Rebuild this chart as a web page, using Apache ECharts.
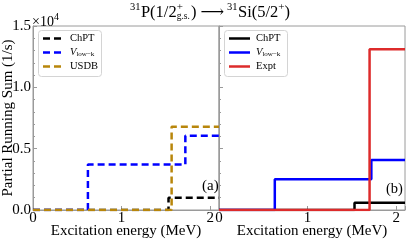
<!DOCTYPE html>
<html><head><meta charset="utf-8">
<script src="https://cdn.jsdelivr.net/npm/echarts@6/dist/echarts.min.js"></script>
<style>html,body{margin:0;padding:0;background:#fff}#c{width:408px;height:240px}</style>
</head><body><div id="c"></div>
<script>
// ---- data (rates in 1/s; excitation energies in MeV) ----
const X_MAX = 2.1;
const xTicks = [0, 1, 2];
const yTicks = [0, 5000, 10000, 15000];
// panel (a)
const chptA_E = [1.53],        chptA_S = [1000];
const vlowA_E = [0.62, 1.72],  vlowA_S = [3700, 6050];
const usdbA_E = [1.565],       usdbA_S = [6780];
// panel (b)
const chptB_E = [1.53],        chptB_S = [600];
const vlowB_E = [0.63, 1.72],  vlowB_S = [2500, 4070];
const exptB_E = [1.70],        exptB_S = [13100];

function steps(E, S) {
  const pts = [[0, 0]];
  E.forEach((e, i) => pts.push([e, S[i]]));
  pts.push([X_MAX, S[S.length - 1]]);
  return pts;
}

const SERIF = '"Liberation Serif", "DejaVu Serif", serif';
const FRAME = '#9a9a9a';
const C_BLACK = '#000000', C_BLUE = '#0000ff', C_GOLD = '#b8860b', C_RED = '#dd2b2b';
const DASH = [7, 4];
const FS = 15;

const chart = echarts.init(document.getElementById('c'), null, {renderer: 'canvas'});

function xAxisCfg(gi) {
  return {
    type: 'value', gridIndex: gi, min: 0, max: X_MAX, interval: 1,
    axisLine: {show: true, lineStyle: {color: FRAME, width: 1}},
    axisTick: {show: true, inside: true, length: 4, lineStyle: {color: FRAME}},
    splitLine: {show: false},
    axisLabel: {
      color: '#000', fontFamily: SERIF, fontSize: FS, margin: 1,
      formatter: v => (xTicks.indexOf(v) >= 0 ? String(v) : '')
    },
    name: 'Excitation energy (MeV)', nameLocation: 'middle', nameGap: 14, nameMoveOverlap: false,
    nameTextStyle: {color: '#000', fontFamily: SERIF, fontSize: FS}
  };
}
function yAxisCfg(gi, labels) {
  const c = {
    type: 'value', gridIndex: gi, min: 0, max: 15000, interval: 5000,
    axisLine: {show: true, lineStyle: {color: FRAME, width: 1}},
    axisTick: {show: true, inside: true, length: 4, lineStyle: {color: FRAME}},
    minorTick: {show: true, splitNumber: 5, length: 2, lineStyle: {color: FRAME}},
    splitLine: {show: false},
    axisLabel: {
      show: labels, color: '#000', fontFamily: SERIF, fontSize: FS, margin: 2,
      formatter: v => (yTicks.indexOf(v) >= 0 ? (v / 1e4).toFixed(1) : '')
    }
  };
  if (labels) {
    c.name = 'Partial Running Sum (1/s)';
    c.nameLocation = 'middle'; c.nameGap = 17; c.nameMoveOverlap = false;
    c.nameTextStyle = {color: '#000', fontFamily: SERIF, fontSize: FS};
  }
  return c;
}
function lineSeries(name, gi, pts, color, dashed) {
  return {
    name, type: 'line', xAxisIndex: gi, yAxisIndex: gi, data: pts, step: 'end',
    symbol: 'none', animation: false, clip: true, z: 3,
    lineStyle: {color, width: 2.5, type: dashed ? DASH : 'solid'},
    itemStyle: {color}
  };
}

function txt(t, x, y, size, extra) {
  return Object.assign({
    type: 'text', x, y, silent: true, z: 100,
    style: {text: t, fill: '#000', font: size + 'px ' + SERIF, textAlign: 'left', textVerticalAlign: 'middle'}
  }, extra || {});
}

// measure helper
const mctx = document.createElement('canvas').getContext('2d');
function tw(t, size) { mctx.font = size + 'px ' + SERIF; return mctx.measureText(t).width; }

// title built from pieces
function titleGraphics() {
  const M = 16.5, SUP = 10.5, SUB = 9.5;
  const yMain = 12.3, ySup = 7.5, ySub = 16.5;
  const parts = [
    {t: '31', s: SUP, y: ySup}, {t: 'P(1/2', s: M, y: yMain},
    {stack: [{t: '+', s: SUP + 0.5, y: ySup}, {t: 'g.s.', s: SUB, y: ySub}]},
    {t: ')', s: M, y: yMain}, {gap: 4}, {t: '\u27F6', s: M, y: yMain + 0.5}, {gap: 3},
    {t: '31', s: SUP, y: ySup}, {t: 'Si(5/2', s: M, y: yMain},
    {t: '+', s: SUP + 0.5, y: ySup}, {t: ')', s: M, y: yMain}
  ];
  let total = 0;
  parts.forEach(p => {
    if (p.gap) p.w = p.gap;
    else if (p.stack) p.w = Math.max(...p.stack.map(q => tw(q.t, q.s))) + 1;
    else p.w = tw(p.t, p.s) + (p.s === SUP ? 0.5 : 0);
    total += p.w;
  });
  let x = 210 - total / 2;
  const out = [];
  parts.forEach(p => {
    if (p.stack) p.stack.forEach(q => out.push(txt(q.t, x, q.y, q.s)));
    else if (!p.gap) out.push(txt(p.t, x, p.y, p.s));
    x += p.w;
  });
  return out;
}

// legend drawn as box + sample lines + labels
function legendGraphics(x0, y0, w, h, entries, lineW, textX) {
  const out = [{
    type: 'rect', silent: true, z: 50,
    shape: {x: x0 + 0.5, y: y0 + 0.5, width: w, height: h, r: 3},
    style: {fill: '#fff', stroke: '#d4d4d4', lineWidth: 1}
  }];
  entries.forEach((e, i) => {
    const yy = y0 + 8.5 + i * 14;
    out.push({
      type: 'line', silent: true, z: 51,
      shape: {x1: x0 + 5, y1: yy, x2: x0 + 5 + lineW, y2: yy},
      style: {stroke: e.color, lineWidth: 2.5, lineDash: e.dashed ? DASH : null}
    });
    out.push({
      type: 'text', silent: true, z: 52, x: textX, y: yy,
      style: {
        text: e.label, fill: '#000', font: '10.5px ' + SERIF, textVerticalAlign: 'middle',
        rich: {
          v: {fontFamily: SERIF, fontStyle: 'italic', fontSize: 10.5, fill: '#000'},
          s: {fontFamily: SERIF, fontSize: 7, fill: '#000', padding: [4, 0, 0, 0]}
        }
      }
    });
  });
  return out;
}
const VLOWK = '{v|V}{s|low\u2212k}';

const gridBase = {top: 26, width: 186, height: 184, show: true, borderColor: FRAME, borderWidth: 1,
                  backgroundColor: 'transparent', containLabel: false, outerBoundsMode: 'none'};

chart.setOption({
  animation: false,
  backgroundColor: '#fff',
  grid: [
    Object.assign({left: 33}, gridBase),
    Object.assign({left: 219}, gridBase)
  ],
  xAxis: [xAxisCfg(0), xAxisCfg(1)],
  yAxis: [yAxisCfg(0, true), yAxisCfg(1, false)],
  series: [
    lineSeries('ChPT', 0, steps(chptA_E, chptA_S), C_BLACK, true),
    lineSeries('Vlowk', 0, steps(vlowA_E, vlowA_S), C_BLUE, true),
    lineSeries('USDB', 0, steps(usdbA_E, usdbA_S), C_GOLD, true),
    lineSeries('ChPT ', 1, steps(chptB_E, chptB_S), C_BLACK, false),
    lineSeries('Vlowk ', 1, steps(vlowB_E, vlowB_S), C_BLUE, false),
    lineSeries('Expt', 1, steps(exptB_E, exptB_S), C_RED, false)
  ],
  graphic: [].concat(
    titleGraphics(),
    legendGraphics(38, 30, 63, 46, [
      {label: 'ChPT', color: C_BLACK, dashed: true},
      {label: VLOWK, color: C_BLUE, dashed: true},
      {label: 'USDB', color: C_GOLD, dashed: true}
    ], 18, 70),
    legendGraphics(224, 30, 63, 46, [
      {label: 'ChPT', color: C_BLACK, dashed: false},
      {label: VLOWK, color: C_BLUE, dashed: false},
      {label: 'Expt', color: C_RED, dashed: false}
    ], 21, 256),
    [
      txt('\u00D710', 32, 22, 14),
      txt('4', 32 + tw('\u00D710', 14), 17, 10),
      txt('(a)', 202, 186, FS),
      txt('(b)', 386, 189, 14.5)
    ]
  )
});
</script></body></html>
